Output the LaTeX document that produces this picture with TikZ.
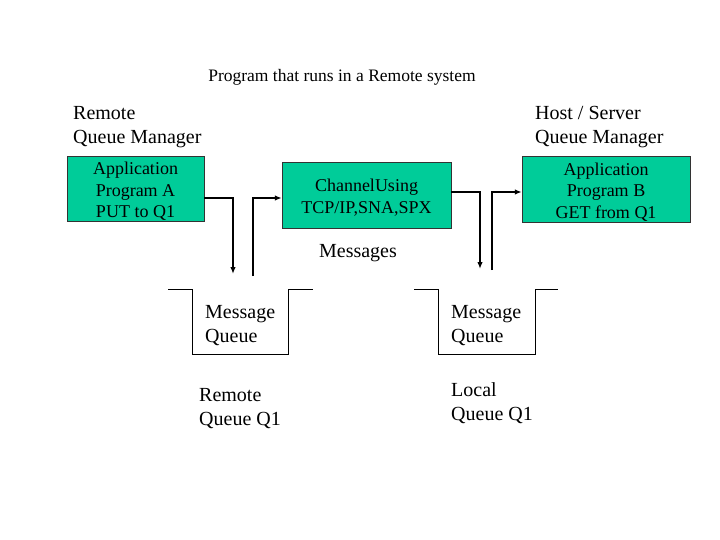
\documentclass[tikz,border=0pt]{standalone}
\usepackage{fontspec}
\setmainfont{Liberation Serif}
\usetikzlibrary{arrows.meta}

\definecolor{boxgreen}{RGB}{0,204,153}
\newcommand\proglift{\rule{0pt}{18pt}}

\begin{document}
\begin{tikzpicture}[x=1pt,y=-1pt,>={Latex[length=7pt,width=5.5pt]},
	prog/.style={draw=black!80,fill=boxgreen,thin,inner sep=0pt,align=center,
		font=\fontsize{18}{21.5}\selectfont},
	lbl/.style={inner sep=0pt,align=left,anchor=west,font=\fontsize{20}{24}\selectfont},
	flow/.style={->,line width=1.4pt},
	queue/.style={line width=0.9pt}]

\useasboundingbox (0,0) rectangle (720,540);

% headings
\node[inner sep=0pt,font=\fontsize{17.5}{21}\selectfont] (title) at (342,77) {Program that runs in a Remote system};
\node[lbl] (remoteqm) at (73,127) {Remote\\Queue Manager};
\node[lbl] (hostqm) at (535,127) {Host / Server\\Queue Manager};

% programs and channel
\node[prog,minimum width=137pt,minimum height=65pt] (appA) at (135.5,188.5) {\proglift Application\\Program A\\PUT to Q1};
\node[prog,minimum width=169pt,minimum height=66pt] (channel) at (366.5,195) {\proglift ChannelUsing\\TCP/IP,SNA,SPX};
\node[prog,minimum width=168pt,minimum height=66pt] (appB) at (606,189) {\proglift Application\\Program B\\GET from Q1};

\node[inner sep=0pt,font=\fontsize{20}{24}\selectfont] (msgs) at (358,253) {Messages};

% queues
\draw[queue] (168,289) -- (192,289) -- (192,354) -- (288,354) -- (288,289) -- (313,289);
\draw[queue] (414,289) -- (438,289) -- (438,354) -- (535,354) -- (535,289) -- (558,289);

\node[lbl] (mqA) at (205,325.5) {Message\\Queue};
\node[lbl] (mqB) at (451,325.5) {Message\\Queue};
\node[lbl] (rq) at (199,409) {Remote\\Queue Q1};
\node[lbl] (lq) at (451,403) {Local\\Queue Q1};

% message flow
\coordinate (inA) at (233,274);
\coordinate (outA) at (253,276);
\coordinate (inB) at (480,269);
\coordinate (outB) at (492,270);

\draw[flow] ([yshift=-9.5pt]appA.east) -| (inA);
\draw[flow] (outA) |- ([yshift=-3pt]channel.west);
\draw[flow] ([yshift=3pt]channel.east) -| (inB);
\draw[flow] (outB) |- ([yshift=-3pt]appB.west);

\end{tikzpicture}
\end{document}
